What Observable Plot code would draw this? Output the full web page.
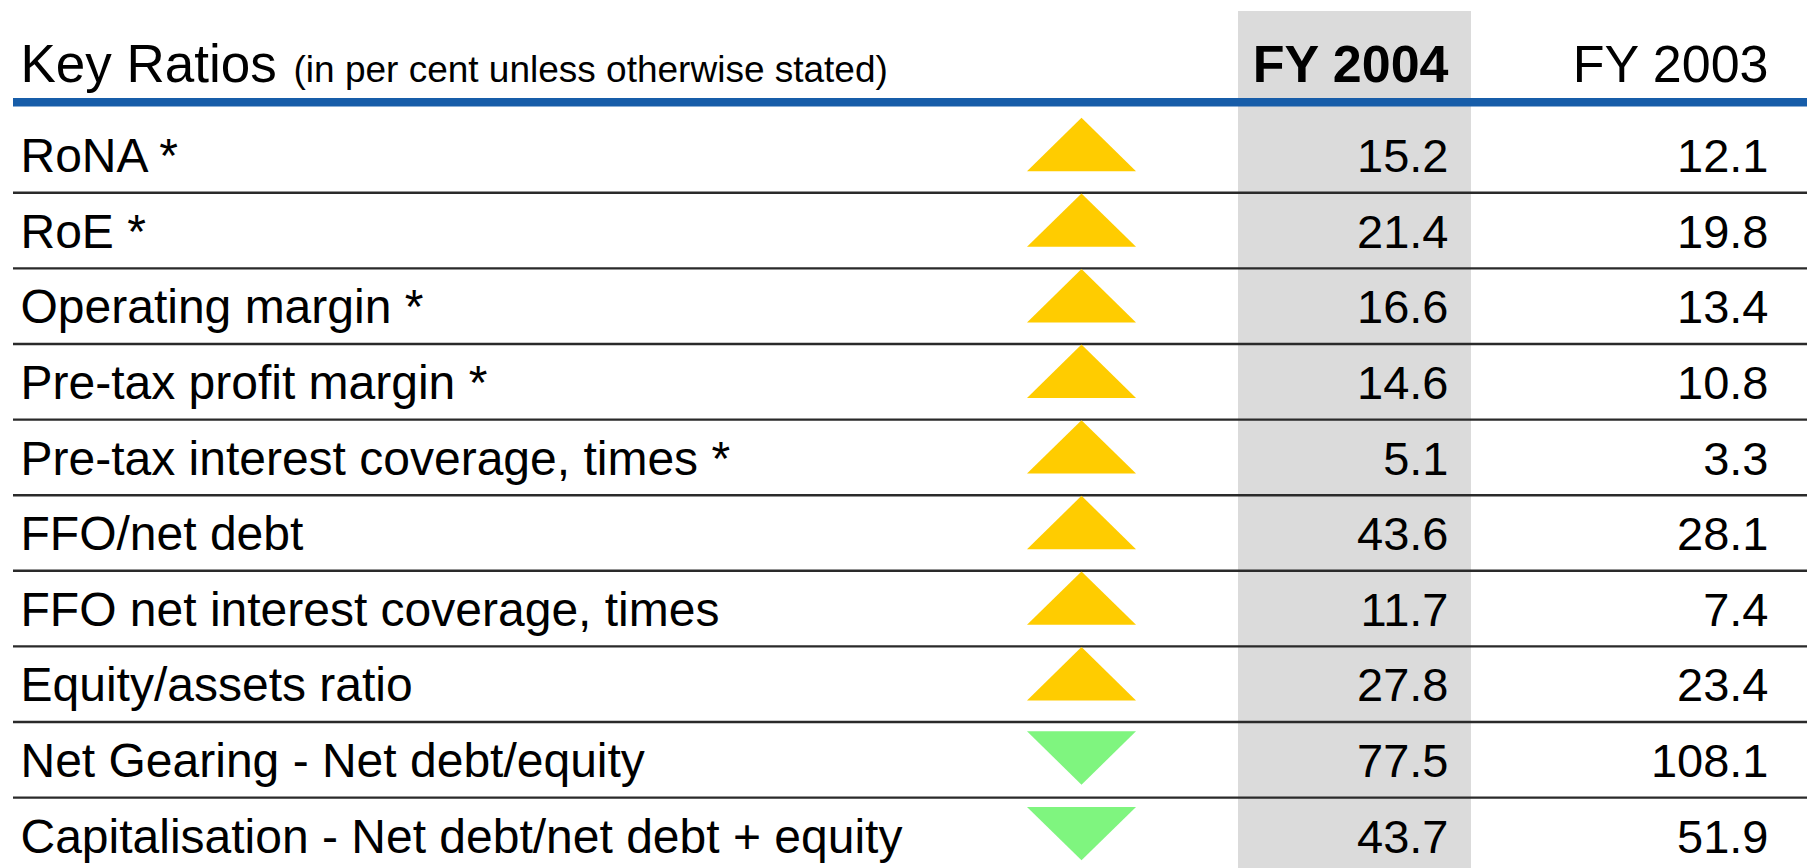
<!DOCTYPE html>
<html><head><meta charset="utf-8">
<script src="https://cdn.jsdelivr.net/npm/d3@7"></script>
<script src="https://cdn.jsdelivr.net/npm/@observablehq/plot@0.6"></script>
<style>html,body{margin:0;padding:0;background:#fff;} #chart svg{display:block;}</style>
</head><body><div id="chart"></div>
<script>
// ---- data ----
const title = "Key Ratios";
const subtitle = "(in per cent unless otherwise stated)";
const columnHeaders = ["FY 2004", "FY 2003"];
const labels = [
  "RoNA *",
  "RoE *",
  "Operating margin *",
  "Pre-tax profit margin *",
  "Pre-tax interest coverage, times *",
  "FFO/net debt",
  "FFO net interest coverage, times",
  "Equity/assets ratio",
  "Net Gearing - Net debt/equity",
  "Capitalisation - Net debt/net debt + equity"
];
const fy2004 = [15.2, 21.4, 16.6, 14.6, 5.1, 43.6, 11.7, 27.8, 77.5, 43.7];
const fy2003 = [12.1, 19.8, 13.4, 10.8, 3.3, 28.1, 7.4, 23.4, 108.1, 51.9];
const trend = ["up", "up", "up", "up", "up", "up", "up", "up", "down", "down"];

// ---- layout ----
const W = 1807, H = 868;
const HEADER = "__header__";
const BAND = 75.6;
const Y0 = 40.5;
const col = {label: 20, sub: 293, arrow: 1081, fy2004: 1448, fy2003: 1768, greyL: 1238, greyR: 1471, lineL: 13};

const rows = labels.map((label, i) => ({label, fy2004: fy2004[i], fy2003: fy2003[i], trend: trend[i]}));
const headerCells = [
  {text: title, x: col.label, size: 53, weight: "normal", anchor: "start"},
  {text: subtitle, x: col.sub, size: 37, weight: "normal", anchor: "start"},
  {text: columnHeaders[0], x: col.fy2004, size: 52, weight: "bold", anchor: "end"},
  {text: columnHeaders[1], x: col.fy2003, size: 52, weight: "normal", anchor: "end"}
];

function triangle(dir) {
  return {draw(ctx, size) {
    const r = Math.sqrt(size / Math.PI);
    const h = r * 0.49;
    if (dir === "up") { ctx.moveTo(0, -h); ctx.lineTo(r, h); ctx.lineTo(-r, h); }
    else { ctx.moveTo(-r, -h); ctx.lineTo(r, -h); ctx.lineTo(0, h); }
    ctx.closePath();
  }};
}

const font = "'Liberation Sans', Arial, Helvetica, sans-serif";

const chart = Plot.plot({
  width: W,
  height: H,
  marginTop: 11, marginBottom: 0, marginLeft: 0, marginRight: 0,
  style: {fontFamily: font, background: "#ffffff", color: "#000"},
  x: {type: "linear", domain: [0, W], range: [0, W], axis: null},
  y: {type: "band", domain: [HEADER, ...labels], range: [Y0, Y0 + BAND * (labels.length + 1)], padding: 0, round: false, axis: null},
  marks: [
    // grey highlight column
    Plot.rect([0], {x1: col.greyL, x2: col.greyR, fill: "#dbdbdb"}),
    // row separators
    Plot.ruleY(labels.slice(1), {y: d => d, x1: col.lineL, x2: W, stroke: "#2a2a2a", strokeWidth: 2.4, dy: -BAND / 2 + 0.6}),
    // blue header rule
    Plot.ruleY([HEADER], {y: d => d, x1: col.lineL, x2: W, stroke: "#175da9", strokeWidth: 8.6, dy: 23.5}),
    // trend triangles
    Plot.dot(rows.filter(d => d.trend === "up"), {x: () => col.arrow, y: "label", r: 54.5, symbol: triangle("up"), fill: "#ffcc00", stroke: "none", dy: -9.9}),
    Plot.dot(rows.filter(d => d.trend === "down"), {x: () => col.arrow, y: "label", r: 54.5, symbol: triangle("down"), fill: "#7ff57f", stroke: "none", dy: -1.2}),
    // header texts
    ...headerCells.map(h => Plot.text([h], {x: "x", y: () => HEADER, text: "text", fontSize: h.size, fontWeight: h.weight, textAnchor: h.anchor, lineAnchor: "bottom", fill: "#000", dy: 3.4})),
    // row labels
    Plot.text(rows, {x: () => col.label, y: "label", text: "label", fontSize: 48, textAnchor: "start", lineAnchor: "bottom", fill: "#000", dy: 17.8}),
    // values
    Plot.text(rows, {x: () => col.fy2004, y: "label", text: d => d.fy2004.toFixed(1), fontSize: 47, textAnchor: "end", lineAnchor: "bottom", fill: "#000", dy: 17.8}),
    Plot.text(rows, {x: () => col.fy2003, y: "label", text: d => d.fy2003.toFixed(1), fontSize: 47, textAnchor: "end", lineAnchor: "bottom", fill: "#000", dy: 17.8})
  ]
});
document.getElementById("chart").appendChild(chart);
</script>
</body></html>
